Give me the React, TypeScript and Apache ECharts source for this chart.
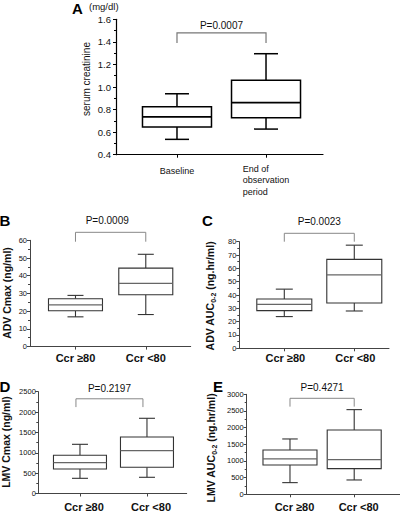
import React, { useEffect, useRef } from 'react';
import * as echarts from 'echarts';

// ---------- data ----------
const panelLetters = ['A', 'B', 'C', 'D', 'E'];
const categoriesA = ['Baseline', 'End of\nobservation\nperiod'];
const categoriesCcr = ['Ccr ≥80', 'Ccr <80'];
// each box: [min, Q1, median, Q3, max]
const serumCreatinine = [
  [0.536, 0.645, 0.736, 0.825, 0.94],
  [0.627, 0.728, 0.861, 1.059, 1.295],
];
const advCmax = [
  [16.8, 20.2, 23.6, 27.0, 28.9],
  [18.1, 29.3, 35.7, 44.3, 52.1],
];
const advAuc = [
  [23.8, 28.3, 33.0, 37.0, 44.4],
  [28.0, 34.0, 55.1, 66.7, 77.4],
];
const lmvCmax = [
  [373, 602, 756, 938, 1208],
  [398, 643, 1051, 1388, 1847],
];
const lmvAuc = [
  [350, 880, 1060, 1330, 1660],
  [430, 770, 1040, 1930, 2540],
];
const pValues = ['P=0.0007', 'P=0.0009', 'P=0.0023', 'P=0.2197', 'P=0.4271'];
// bracket: [x0, x1, yTop, yBottom]
const brackets = [
  [0, 1, 1.479, 1.391],
  [0, 1, 64.5, 59.2],
  [0, 1, 86.3, 80],
  [-0.06, 0.94, 2326, 2122],
  [0, 1, 2880, 2630],
];
const yMins = [0.4, 0, 0, 0, 0];
const yMaxs = [1.6, 60, 80, 2500, 3000];
const yIntervals = [0.2, 10, 10, 500, 500];
const yNames = [
  'serum creatinine',
  'ADV Cmax (ng/ml)',
  'ADV AUC{sub|0-2} (ng.hr/ml)',
  'LMV Cmax (ng/ml)',
  'LMV AUC{sub|0-2} (ng.hr/ml)',
];
const unitA = '(mg/dl)';

const panelData = [serumCreatinine, advCmax, advAuc, lmvCmax, lmvAuc];

// ---------- layout (pixels) ----------
const layout = [
  { left: 116, top: 19.3, width: 207, height: 135.4, xMin: -0.685, xMax: 1.64, boxW: 69, capW: 24, lw: 1.5, color: '#000', median: '#000', axis: '#000', axisW: 1.2, bracket: '#777', textGap: 7.7, textDx: 0, labelMargin: 8.5, ylabMargin: 5, ylabSize: 9.5, decimals: 1, labelPad: 0 },
  { left: 30, top: 240.3, width: 160.7, height: 106.3, xMin: -0.647, xMax: 1.639, boxW: 54, capW: 16, lw: 1.1, color: '#333', median: '#666', axis: '#444', axisW: 1, bracket: '#888', textGap: 12, textDx: -3.4, labelMargin: 6, ylabMargin: 3, ylabSize: 7.5, decimals: 0, labelPad: 0 },
  { left: 239.3, top: 241.7, width: 149.7, height: 106.6, xMin: -0.643, xMax: 1.496, boxW: 55, capW: 17, lw: 1.1, color: '#333', median: '#666', axis: '#444', axisW: 1, bracket: '#888', textGap: 12.3, textDx: 0, labelMargin: 4.5, ylabMargin: 3, ylabSize: 7.5, decimals: 0, labelPad: 2 },
  { left: 38.3, top: 391.7, width: 148.4, height: 101.8, xMin: -0.622, xMax: 1.593, boxW: 53, capW: 16, lw: 1.1, color: '#333', median: '#666', axis: '#444', axisW: 1, bracket: '#888', textGap: 10, textDx: 0, labelMargin: 7.5, ylabMargin: 2.5, ylabSize: 7.5, decimals: 0, labelPad: 8 },
  { left: 246.7, top: 394.3, width: 153.3, height: 100, xMin: -0.674, xMax: 1.713, boxW: 54, capW: 15.5, lw: 1.1, color: '#333', median: '#666', axis: '#444', axisW: 1, bracket: '#888', textGap: 10.6, textDx: 0, labelMargin: 6.8, ylabMargin: 3, ylabSize: 7.5, decimals: 0, labelPad: 9 },
];

const letterPos = [
  [77.5, 8.5], [5, 220], [207.5, 220.5], [5, 386], [218, 386],
];
const yNamePos = [
  [86, 79, false], [6.5, 293, true], [210, 296, true], [6, 442, true], [211, 448, true],
];

const FONT = "'Liberation Sans', Arial, sans-serif";

function buildOption() {
  const grid: any[] = [];
  const xAxis: any[] = [];
  const yAxis: any[] = [];
  const series: any[] = [];
  const graphic: any[] = [];

  layout.forEach((L, i) => {
    grid.push({ left: L.left, top: L.top, width: L.width, height: L.height, containLabel: false, outerBoundsMode: 'none' });
    const isA = i === 0;
    const cats = isA ? categoriesA : categoriesCcr;
    xAxis.push({
      gridIndex: i,
      type: 'value',
      min: L.xMin,
      max: L.xMax,
      axisLine: { show: true, onZero: false, lineStyle: { color: L.axis, width: L.axisW } },
      axisTick: { show: true, customValues: [0, 1], length: 3, lineStyle: { color: L.axis, width: 1 } },
      splitLine: { show: false },
      axisLabel: {
        show: true,
        customValues: [0, 1],
        margin: L.labelMargin,
        color: '#111',
        fontFamily: FONT,
        fontSize: isA ? 9 : 11,
        fontWeight: isA ? 'normal' : 'bold',
        padding: [0, 0, 0, L.labelPad],
        formatter: (v: number) => {
          const idx = Math.round(v);
          const name = cats[idx] ?? '';
          if (isA) {
            return name
              .split('\n')
              .map((s) => (idx === 0 ? `{b|${s}}` : `{l|${s}}`))
              .join('\n');
          }
          return name;
        },
        rich: isA
          ? {
              b: { fontSize: 9, lineHeight: 11.5, fontFamily: FONT, color: '#111', padding: [5, 0, 0, 0] },
              l: { fontSize: 9, lineHeight: 11.5, fontFamily: FONT, color: '#111', align: 'left' },
            }
          : undefined,
      },
    });
    yAxis.push({
      gridIndex: i,
      type: 'value',
      min: yMins[i],
      max: yMaxs[i],
      interval: yIntervals[i],
      axisLine: { show: true, onZero: false, lineStyle: { color: L.axis, width: L.axisW } },
      axisTick: { show: true, length: 3, lineStyle: { color: L.axis, width: 1 } },
      minorTick: { show: true, splitNumber: 2, length: 2, lineStyle: { color: L.axis, width: 1 } },
      splitLine: { show: false },
      minorSplitLine: { show: false },
      axisLabel: {
        margin: L.ylabMargin,
        fontSize: L.ylabSize,
        fontFamily: FONT,
        color: '#111',
        formatter: (v: number) => v.toFixed(L.decimals),
      },
    });

    // boxes
    const boxes = panelData[i];
    series.push({
      type: 'custom',
      xAxisIndex: i,
      yAxisIndex: i,
      clip: false,
      silent: true,
      encode: { x: 0, y: [1, 2, 3, 4, 5] },
      data: boxes.map((b, k) => [k, ...b]),
      renderItem: (params: any, api: any) => {
        const x = api.value(0);
        const cx = api.coord([x, api.value(3)])[0];
        const yMin = api.coord([x, api.value(1)])[1];
        const yQ1 = api.coord([x, api.value(2)])[1];
        const yMed = api.coord([x, api.value(3)])[1];
        const yQ3 = api.coord([x, api.value(4)])[1];
        const yMax = api.coord([x, api.value(5)])[1];
        const hw = L.boxW / 2;
        const hc = L.capW / 2;
        const ls = { stroke: L.color, lineWidth: L.lw, fill: 'none' };
        return {
          type: 'group',
          children: [
            { type: 'line', shape: { x1: cx, y1: yQ3, x2: cx, y2: yMax }, style: ls },
            { type: 'line', shape: { x1: cx - hc, y1: yMax, x2: cx + hc, y2: yMax }, style: ls },
            { type: 'line', shape: { x1: cx, y1: yQ1, x2: cx, y2: yMin }, style: ls },
            { type: 'line', shape: { x1: cx - hc, y1: yMin, x2: cx + hc, y2: yMin }, style: ls },
            { type: 'rect', shape: { x: cx - hw, y: yQ3, width: L.boxW, height: yQ1 - yQ3 }, style: { stroke: L.color, lineWidth: L.lw, fill: '#fff' } },
            { type: 'line', shape: { x1: cx - hw, y1: yMed, x2: cx + hw, y2: yMed }, style: { stroke: L.median, lineWidth: L.lw + 0.2 } },
          ],
        };
      },
    });

    // significance bracket
    series.push({
      type: 'custom',
      xAxisIndex: i,
      yAxisIndex: i,
      clip: false,
      silent: true,
      encode: { x: [0, 1], y: [2, 3] },
      data: [brackets[i]],
      renderItem: (params: any, api: any) => {
        const p0b = api.coord([api.value(0), api.value(3)]);
        const p0t = api.coord([api.value(0), api.value(2)]);
        const p1t = api.coord([api.value(1), api.value(2)]);
        const p1b = api.coord([api.value(1), api.value(3)]);
        return {
          type: 'group',
          children: [
            {
              type: 'polyline',
              shape: { points: [p0b, p0t, p1t, p1b] },
              style: { stroke: L.bracket, lineWidth: isA ? 1.2 : 1, fill: 'none' },
            },
            {
              type: 'text',
              style: {
                text: pValues[i],
                x: (p0t[0] + p1t[0]) / 2 + L.textDx,
                y: p0t[1] - L.textGap,
                align: 'center',
                verticalAlign: 'middle',
                fontSize: 10,
                fontFamily: FONT,
                fill: '#111',
              },
            },
          ],
        };
      },
    });

    // panel letter
    graphic.push({
      type: 'text',
      x: letterPos[i][0],
      y: letterPos[i][1],
      style: { text: panelLetters[i], fontSize: 15, fontWeight: 'bold', fontFamily: FONT, fill: '#000', align: 'center', verticalAlign: 'middle' },
    });
    // y axis name
    const [nx, ny, bold] = yNamePos[i] as [number, number, boolean];
    graphic.push({
      type: 'text',
      x: nx,
      y: ny,
      rotation: Math.PI / 2,
      style: {
        text: yNames[i],
        fontSize: bold ? 10.5 : 10,
        fontWeight: bold ? 'bold' : 'normal',
        fontFamily: FONT,
        fill: '#111',
        align: 'center',
        verticalAlign: 'middle',
        rich: {
          sub: { fontSize: 7, fontWeight: 'bold', fontFamily: FONT, fill: '#111', verticalAlign: 'bottom', lineHeight: 14 },
        },
      },
    });
  });

  graphic.push({
    type: 'text',
    x: 89,
    y: 6.3,
    style: { text: unitA, fontSize: 9.5, fontFamily: FONT, fill: '#111', align: 'left', verticalAlign: 'middle' },
  });

  return {
    animation: false,
    backgroundColor: '#fff',
    textStyle: { fontFamily: FONT },
    grid,
    xAxis,
    yAxis,
    series,
    graphic,
  };
}

export default function App() {
  const ref = useRef<HTMLDivElement>(null);
  useEffect(() => {
    if (!ref.current) return;
    const chart = echarts.init(ref.current, null, { renderer: 'svg' });
    chart.setOption(buildOption() as any);
    return () => chart.dispose();
  }, []);
  return (
    <div
      ref={ref}
      style={{ position: 'absolute', left: 0, top: 0, width: 400, height: 512, background: '#fff' }}
    />
  );
}
